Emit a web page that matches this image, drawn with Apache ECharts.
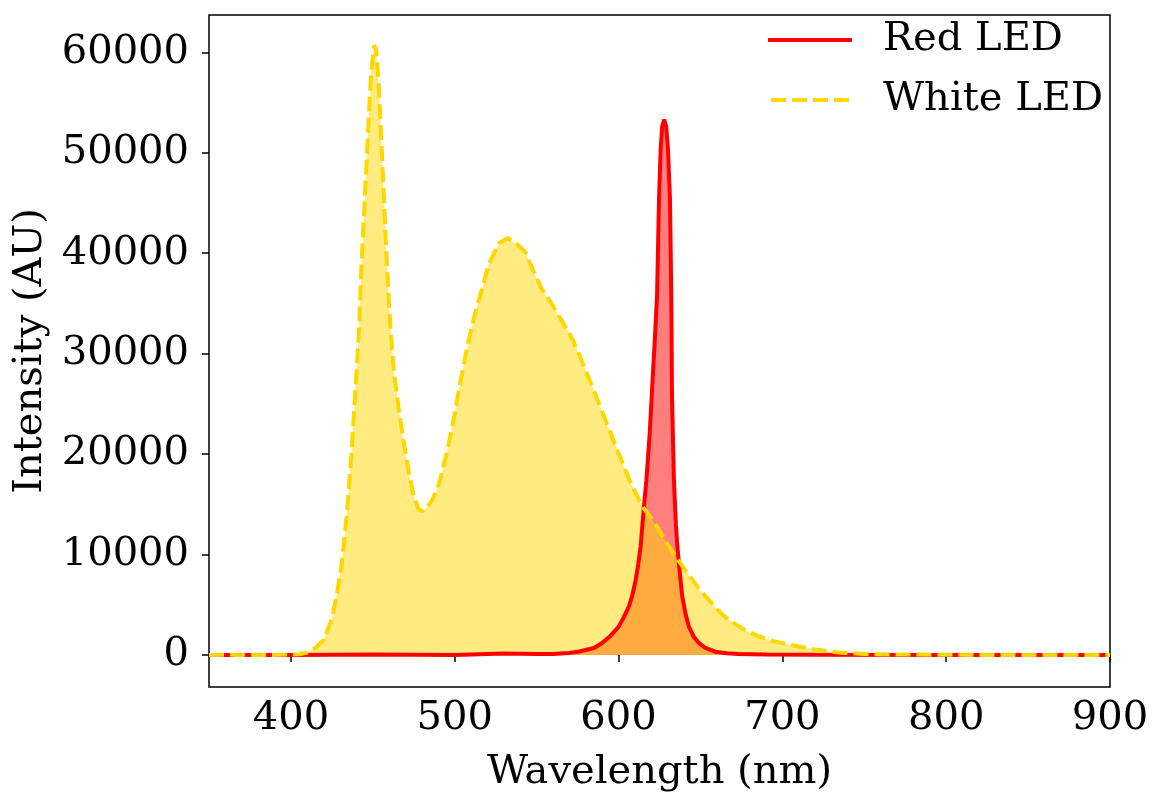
<!DOCTYPE html>
<html>
<head>
<meta charset="utf-8">
<script src="https://cdn.jsdelivr.net/npm/echarts@6/dist/echarts.min.js"></script>
<style>html,body{margin:0;padding:0;background:#fff}#c{width:1152px;height:794px}</style>
</head>
<body>
<div id="c"></div>
<script>
const xTicks = [400, 500, 600, 700, 800, 900];
const yTicks = [0, 10000, 20000, 30000, 40000, 50000, 60000];

const whiteWl = [350,360,370,380,390,400,405,410,415,420,425,428,431,434,437,439.5,441.5,443,444.5,446,447.5,449,450.8,452,453.5,455,456.5,458,459.5,461,463,466,469,472,475,478,480.5,483,486.5,490.5,494.5,498.5,503,507,511,515,521,527,530,532.5,535,537.5,540,543.5,546,549.5,553,557.5,562,566,572,578,584,592,600,608,614.5,620,624.5,630,635,640,645,650,655,660,665,671,677,685,694,702,710,720,734,750,770,800,830,860,900];
const whiteI = [0,30,-20,20,0,50,80,250,700,1500,3600,6000,9000,13800,20100,26700,32100,38500,43500,48500,53500,58000,60700,60300,57000,52000,46500,41000,36000,32000,28000,24300,21000,18200,15800,14500,14300,14700,15500,17100,19700,22700,26800,30200,33100,35500,39000,41000,41300,41500,41200,41000,40600,40000,39000,37700,36500,35400,34200,33100,31400,29100,26700,23400,20100,16900,14800,13600,12500,11000,9800,8600,7500,6400,5500,4600,3800,3100,2500,1900,1400,1100,850,550,250,100,50,20,0,10,0];

const redWl = [350,400,450,500,530,550,560,570,576,585,590,595,600,603,606.5,608.5,610.5,612,613.5,615.5,617,619,620.5,622,623.5,624.7,625.7,626.6,627.9,629.1,630.2,631.4,632.2,632.6,633.8,635,635.9,637.5,638.9,641,643,646,649,653,659,666,673,690,720,800,900];
const redI = [0,0,50,0,150,100,100,200,350,700,1200,1900,2800,3700,4900,6000,7500,9000,10800,14800,17400,22000,26500,31000,35700,45400,50300,52600,53300,52600,50300,45400,35700,26000,17400,13000,10800,8000,5800,4000,2800,1800,1200,700,330,180,100,50,20,0,0];

const pairs = (xs, ys) => xs.map((x, i) => [x, ys[i]]);
const whiteData = pairs(whiteWl, whiteI);
const redData = pairs(redWl, redI);

const FONT = 'DejaVu Serif';
const FS = 40;
const plain = v => String(v);

const chart = echarts.init(document.getElementById('c'), null, {renderer: 'canvas'});
chart.setOption({
  animation: false,
  backgroundColor: '#fff',
  grid: {left: 209, right: 42, top: 15, bottom: 107, show: true, borderColor: '#000', borderWidth: 1.5,
         backgroundColor: 'transparent', containLabel: false, outerBoundsMode: 'none'},
  legend: {
    data: [
      {name: 'Red LED', icon: 'rect'},
      {name: 'White LED', icon: 'path://M0,0h15v4h-15z M21,0h15v4h-15z M42,0h15v4h-15z M63,0h15v4h-15z'}
    ],
    orient: 'vertical',
    left: 768,
    top: 19,
    padding: 0,
    itemWidth: 84,
    itemHeight: 4,
    itemGap: 18,
    textStyle: {fontFamily: FONT, fontSize: FS, color: '#000', lineHeight: 42, padding: [0, 0, 0, 26]}
  },
  xAxis: {
    type: 'value', min: 350, max: 900,
    name: 'Wavelength (nm)', nameLocation: 'middle', nameGap: 66,
    nameTextStyle: {fontFamily: FONT, fontSize: FS, color: '#000'},
    axisLine: {show: false},
    splitLine: {show: false},
    axisTick: {show: true, length: 7, inside: false, lineStyle: {color: '#000', width: 1.5}, customValues: xTicks},
    axisLabel: {fontFamily: FONT, fontSize: FS, color: '#000', margin: 12, customValues: xTicks, formatter: plain}
  },
  yAxis: {
    type: 'value', min: -3186, max: 63713,
    name: 'Intensity (AU)', nameLocation: 'middle', nameGap: 151,
    nameTextStyle: {fontFamily: FONT, fontSize: FS, color: '#000'},
    axisLine: {show: false},
    splitLine: {show: false},
    axisTick: {show: true, length: 7, inside: false, lineStyle: {color: '#000', width: 1.5}, customValues: yTicks},
    axisLabel: {fontFamily: FONT, fontSize: FS, color: '#000', margin: 20, customValues: yTicks, formatter: plain}
  },
  series: [
    {name: 'redFill', type: 'line', data: redData, symbol: 'none', z: 1,
     lineStyle: {width: 0, opacity: 0}, areaStyle: {color: 'rgba(255,0,0,0.5)', opacity: 1, origin: 0}, silent: true},
    {name: 'whiteFill', type: 'line', data: whiteData, symbol: 'none', z: 2,
     lineStyle: {width: 0, opacity: 0}, areaStyle: {color: 'rgba(255,215,0,0.5)', opacity: 1, origin: 0}, silent: true},
    {name: 'Red LED', type: 'line', data: redData, symbol: 'none', z: 3,
     lineStyle: {color: '#ff0000', width: 4}, itemStyle: {color: '#ff0000'}},
    {name: 'White LED', type: 'line', data: whiteData, symbol: 'none', z: 4,
     lineStyle: {color: '#ffd700', width: 4, type: [15, 6]}, itemStyle: {color: '#ffd700'}}
  ]
});
</script>
</body>
</html>
